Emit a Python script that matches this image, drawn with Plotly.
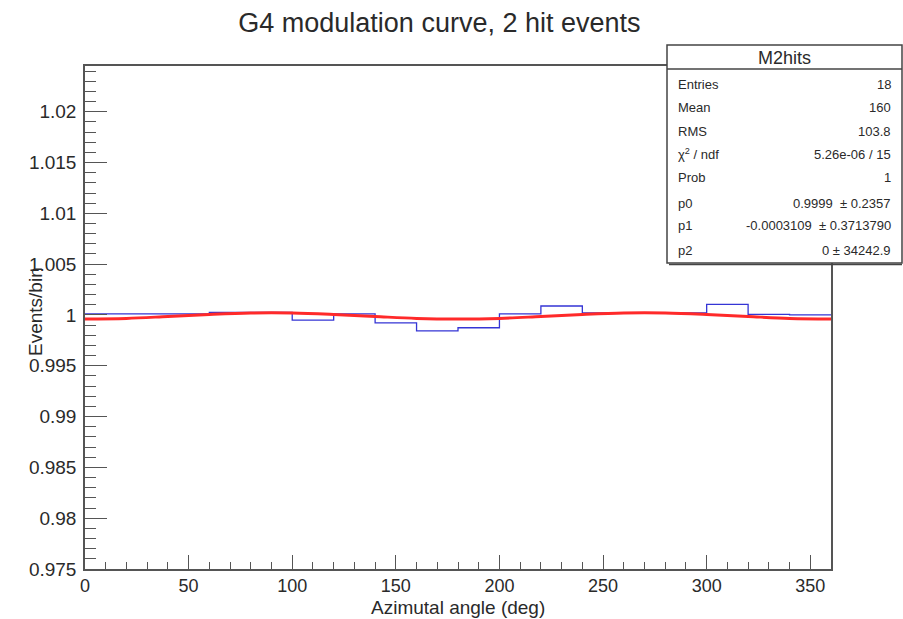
import plotly.graph_objects as go

# ---------------- data ----------------
bin_edges = [0, 20, 40, 60, 80, 100, 120, 140, 160, 180, 200, 220, 240, 260, 280, 300, 320, 340, 360]
hist_values = [1.0001, 1.0001, 1.0001, 1.00025, 1.00025, 0.9995, 1.0001, 0.99923, 0.99844,
               0.99874, 1.0001, 1.00088, 1.0002, 1.0002, 1.0002, 1.00104, 1.00006, 1.0]
fit_x = [0, 20, 40, 60, 80, 100, 120, 140, 160, 180, 200, 220, 240, 260, 280, 300, 320, 340, 360]
fit_y = [0.99960, 0.99966, 0.99985, 1.00005, 1.00019, 1.00019, 1.00005, 0.99985, 0.99966, 0.99960,
         0.99966, 0.99985, 1.00005, 1.00019, 1.00019, 1.00005, 0.99985, 0.99966, 0.99960]
y_tickvals = [0.975, 0.98, 0.985, 0.99, 0.995, 1.0, 1.005, 1.01, 1.015, 1.02]
y_ticktext = ["0.975", "0.98", "0.985", "0.99", "0.995", "1", "1.005", "1.01", "1.015", "1.02"]
x_tickvals = [0, 50, 100, 150, 200, 250, 300, 350]
x_ticktext = ["0", "50", "100", "150", "200", "250", "300", "350"]
stat_labels = ["Entries", "Mean", "RMS", "χ<sup>2</sup> / ndf", "Prob", "p0", "p1", "p2"]
stat_values = ["18", "160", "103.8", "5.26e-06 / 15", "1", "0.9999  ± 0.2357",
               "-0.0003109  ± 0.3713790", "0 ± 34242.9"]

W, H = 903, 619
L, R, T, B = 85, 831, 66, 569
FONT = "Liberation Sans, Arial, Helvetica, sans-serif"
AX = "#555555"
TXT = "#2a2a2a"


def px(x):
    return (x - L) / (R - L)


def py(y):
    return (B - y) / (B - T)


fig = go.Figure()
fig.add_trace(go.Scatter(
    x=bin_edges, y=hist_values + [hist_values[-1]], mode="lines",
    line=dict(color="#3535d5", width=1.3, shape="hv"), hoverinfo="skip"))
fig.add_trace(go.Scatter(
    x=fit_x, y=fit_y, mode="lines",
    line=dict(color="#ff2a2a", width=3, shape="spline"), hoverinfo="skip"))

fig.update_layout(
    width=W, height=H, showlegend=False,
    margin=dict(l=L, r=W - R, t=T, b=H - B, pad=0),
    paper_bgcolor="white", plot_bgcolor="white",
    font=dict(family=FONT, color=TXT),
    title=dict(text="G4 modulation curve, 2 hit events", x=px(448), xanchor="center",
               y=1 - 23 / H, yanchor="middle", font=dict(size=27, color=TXT)),
)
fig.update_xaxes(
    range=[0, 360], showgrid=False, zeroline=False,
    showline=True, linecolor=AX, linewidth=1.5, mirror=True,
    ticks="inside", ticklen=14, tickwidth=1, tickcolor=AX,
    tickvals=x_tickvals, ticktext=x_ticktext, tickfont=dict(size=18, color=TXT),
    ticklabelstandoff=0,
    minor=dict(ticks="inside", dtick=10, tick0=0, ticklen=7, tickcolor=AX, tickwidth=1, showgrid=False),
)
fig.update_yaxes(
    range=[0.975, 1.0245], showgrid=False, zeroline=False,
    showline=True, linecolor=AX, linewidth=1.5, mirror=True,
    ticks="inside", ticklen=22, tickwidth=1, tickcolor=AX,
    tickvals=y_tickvals, ticktext=y_ticktext, tickfont=dict(size=19, color=TXT),
    ticklabelstandoff=3,
    minor=dict(ticks="inside", dtick=0.001, tick0=0.975, ticklen=11, tickcolor=AX, tickwidth=1, showgrid=False),
)

ann = []
ann.append(dict(text="Azimutal angle (deg)", x=px(458), y=py(607), xref="paper", yref="paper",
                xanchor="center", yanchor="middle", showarrow=False, font=dict(size=19)))
ann.append(dict(text="Events/bin", x=px(35), y=py(312), xref="paper", yref="paper", textangle=-90,
                xanchor="center", yanchor="middle", showarrow=False, font=dict(size=19)))

# stats box
bx0, bx1, by0, by1, bsep = 667, 902, 45, 263, 69
shapes = [
    dict(type="rect", xref="paper", yref="paper", x0=px(bx0), x1=px(bx1), y0=py(by1), y1=py(by0),
         line=dict(color="#444444", width=1.5), fillcolor="white", layer="above"),
    dict(type="line", xref="paper", yref="paper", x0=px(bx0), x1=px(bx1), y0=py(bsep), y1=py(bsep),
         line=dict(color="#444444", width=1.5), layer="above"),
    dict(type="line", xref="paper", yref="paper", x0=px(bx0 + 2), x1=px(bx1), y0=py(by1 + 1.5), y1=py(by1 + 1.5),
         line=dict(color="#444444", width=1.5), layer="above"),
]
ann.append(dict(text="M2hits", x=px(784), y=py(58), xref="paper", yref="paper",
                xanchor="center", yanchor="middle", showarrow=False, font=dict(size=18)))
row_y = [84, 107, 131, 154, 178, 203, 226, 250]
for lab, val, yy in zip(stat_labels, stat_values, row_y):
    ann.append(dict(text=lab, x=px(676), y=py(yy), xref="paper", yref="paper",
                    xanchor="left", yanchor="middle", showarrow=False, font=dict(size=13)))
    ann.append(dict(text=val, x=px(893), y=py(yy), xref="paper", yref="paper",
                    xanchor="right", yanchor="middle", showarrow=False, font=dict(size=13)))

fig.update_layout(annotations=ann, shapes=shapes)
fig.write_html("out.html")
